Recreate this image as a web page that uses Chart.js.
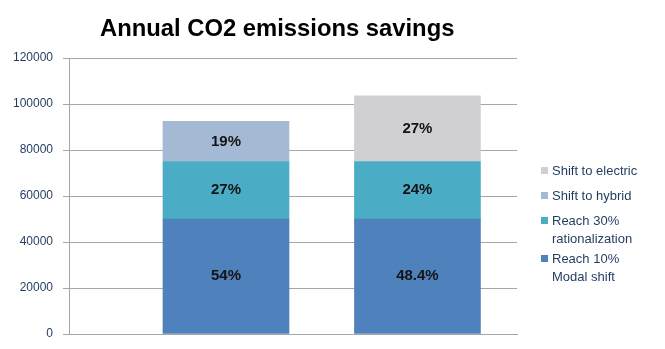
<!DOCTYPE html>
<html>
<head>
<meta charset="utf-8">
<script src="https://cdn.jsdelivr.net/npm/chart.js@4"></script>
<style>
  html, body { margin: 0; padding: 0; background: #fff; }
  #wrap { position: relative; width: 665px; height: 349px; }
  #title { position: absolute; left: 100px; top: 16px; font: bold 23.8px "Liberation Sans", Arial, sans-serif; line-height: 24px; color: #000; white-space: nowrap; }
  #legend { position: absolute; left: 541px; top: 0; font: 13px "Liberation Sans", Arial, sans-serif; color: #1f3a5f; }
  .item { position: absolute; left: 0; display: flex; white-space: nowrap; line-height: 17.5px; }
  .box { width: 7px; height: 7px; margin-top: 5px; margin-right: 4px; flex: none; }
</style>
</head>
<body>
<div id="wrap">
  <canvas id="chart"></canvas>
  <div id="title">Annual CO2 emissions savings</div>
  <div id="legend"></div>
</div>
<script>
// two scenarios, placed at x = 1 and 2 on a linear axis
const categories = [1, 2];

const modalShift = [50000, 50000];
const rationalization = [25000, 25000];
const hybrid = [17500, null];
const electric = [null, 28500];

const modalLabels = ["54%", "48.4%"];
const rationalLabels = ["27%", "24%"];
const hybridLabels = ["19%", ""];
const electricLabels = ["", "27%"];

const yTicks = [0, 20000, 40000, 60000, 80000, 100000, 120000];

const ctx = document.getElementById("chart");

const datasets = [
  { label: "Reach 10%\nModal shift", data: modalShift, backgroundColor: "#4f81bd", pct: modalLabels },
  { label: "Reach 30%\nrationalization", data: rationalization, backgroundColor: "#4bacc6", pct: rationalLabels },
  { label: "Shift to hybrid", data: hybrid, backgroundColor: "#a4bad4", pct: hybridLabels },
  { label: "Shift to electric", data: electric, backgroundColor: "#cfcfd4", pct: electricLabels },
];

// percentage labels in the middle of each segment
const segmentLabels = {
  id: "segmentLabels",
  afterDatasetsDraw(chart) {
    const c = chart.ctx;
    c.save();
    c.font = "bold 15px 'Liberation Sans', Arial, sans-serif";
    c.fillStyle = "#141414";
    c.textAlign = "center";
    c.textBaseline = "middle";
    chart.data.datasets.forEach((ds, i) => {
      chart.getDatasetMeta(i).data.forEach((bar, j) => {
        const txt = ds.pct[j];
        if (!txt || ds.data[j] == null) return;
        c.fillText(txt, bar.x, (bar.y + bar.base) / 2);
      });
    });
    c.restore();
  },
};

new Chart(ctx, {
  type: "bar",
  data: {
    labels: categories,
    datasets: datasets.map((d) => ({
      label: d.label,
      data: d.data,
      pct: d.pct,
      backgroundColor: d.backgroundColor,
      borderWidth: 0,
      barThickness: 126,
    })),
  },
  options: {
    responsive: true,
    maintainAspectRatio: false,
    animation: false,
    layout: { padding: { top: 58, right: 148, bottom: 15, left: 0 } },
    scales: {
      x: {
        type: "linear",
        stacked: true,
        offset: false,
        min: 0.18,
        max: 2.52,
        ticks: { display: false },
        grid: { display: false, drawTicks: false },
        border: { color: "#a6a6a6" },
      },
      y: {
        stacked: true,
        min: yTicks[0],
        max: yTicks[yTicks.length - 1],
        ticks: {
          stepSize: 20000,
          color: "#1f3a5f",
          padding: 10,
          font: { size: 12, family: "'Liberation Sans', Arial, sans-serif" },
          callback: (v) => String(v),
        },
        grid: { color: "#a6a6a6", tickLength: 6 },
        border: { color: "#a6a6a6" },
        afterFit: (s) => {
          s.width = 69;
          s.paddingBottom = 8;
        },
      },
    },
    plugins: {
      legend: { display: false },
      tooltip: { enabled: false },
    },
  },
  plugins: [segmentLabels],
});

// legend, top entry is the top of the stack
const legendTops = [162, 187, 212, 250];
const legend = document.getElementById("legend");
datasets.slice().reverse().forEach((d, i) => {
  const item = document.createElement("div");
  item.className = "item";
  item.style.top = legendTops[i] + "px";
  const box = document.createElement("span");
  box.className = "box";
  box.style.background = d.backgroundColor;
  const txt = document.createElement("span");
  txt.innerHTML = d.label.replace("\n", "<br>");
  item.appendChild(box);
  item.appendChild(txt);
  legend.appendChild(item);
});
</script>
</body>
</html>
